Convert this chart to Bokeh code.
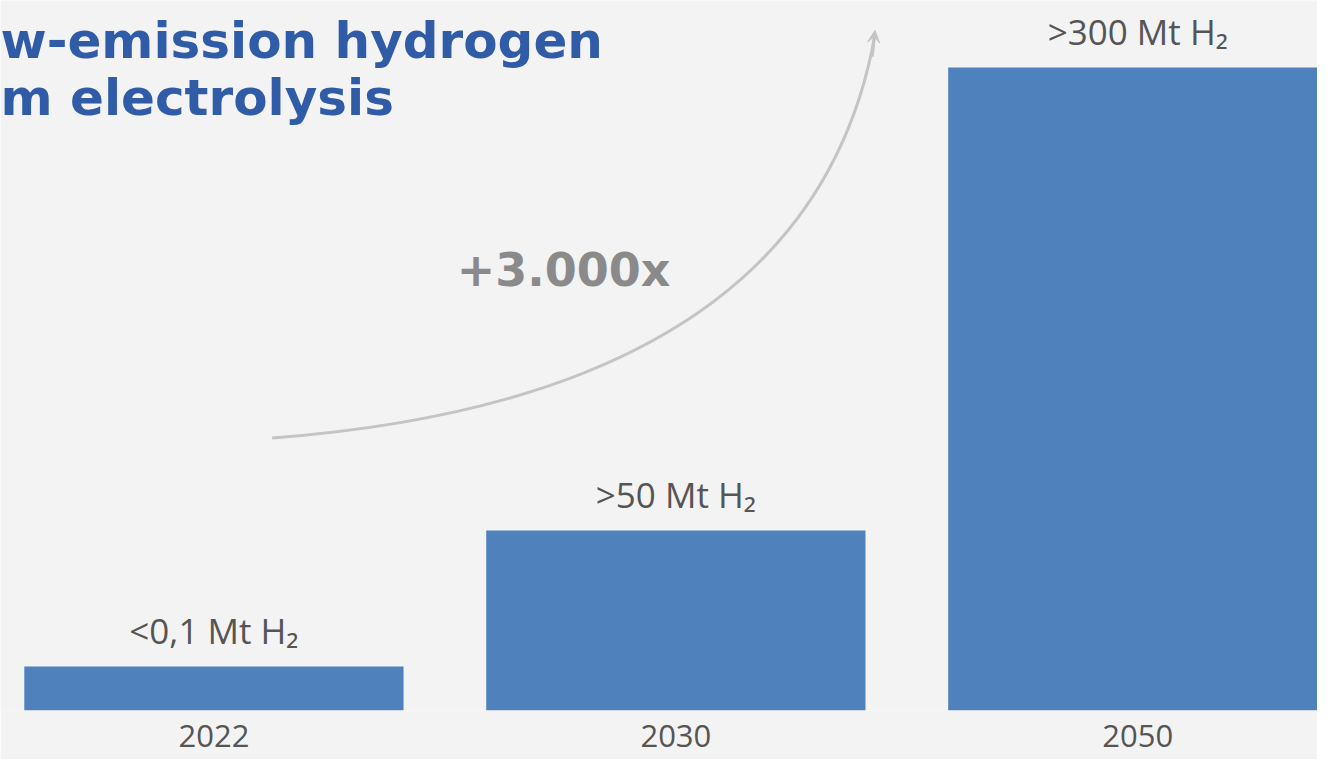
from bokeh.plotting import figure
from bokeh.models import Range1d, FixedTicker, ColumnDataSource, Arrow, VeeHead
from bokeh.core.properties import value
from bokeh.embed import file_html
from bokeh.resources import INLINE

# ---- data ----
years = ["2022", "2030", "2050"]
bar_heights = [20.5, 84.0, 300.0]          # bar heights as drawn (2050 bar = 300)
bar_labels = ["<0,1 Mt H\u2082", ">50 Mt H\u2082", ">300 Mt H\u2082"]
title_lines = ["w-emission hydrogen", "m electrolysis"]
growth_label = "+3.000x"

BG = "#f3f3f3"
BAR = "#4f81bd"
TITLE = "#2f5ba7"
GREY_TXT = "#555555"

xs = list(range(len(years)))
src = ColumnDataSource(dict(x=xs, top=bar_heights, label=bar_labels))

p = figure(width=1317, height=759, output_backend="svg", toolbar_location=None,
           x_range=Range1d(-0.462, 2.389), y_range=Range1d(0, 331.2),
           min_border_left=0, min_border_right=0, min_border_top=0, min_border_bottom=49)
p.background_fill_color = BG
p.border_fill_color = BG
p.outline_line_color = None
p.grid.visible = False
p.yaxis.visible = False

p.vbar(x="x", top="top", bottom=0, width=0.821, source=src, fill_color=BAR, line_color=None)

p.text(x="x", y="top", text="label", source=src, text_align="center", text_baseline="alphabetic",
       y_offset=-36, text_font=value("Open Sans"), text_font_size="35px", text_color=GREY_TXT)

ax = p.xaxis[0]
ax.ticker = FixedTicker(ticks=xs)
ax.major_label_overrides = {i: y for i, y in zip(xs, years)}
ax.axis_line_color = None
ax.major_tick_line_color = None
ax.minor_tick_line_color = None
ax.major_tick_in = 0
ax.major_tick_out = 0
ax.major_label_standoff = 14
ax.major_label_text_font = "Open Sans"
ax.major_label_text_font_size = "31px"
ax.major_label_text_color = GREY_TXT

# title (cropped at left in the reference)
p.text(x=[-0.462, -0.462], y=[312.5, 285.9], text=title_lines, text_align="left",
       text_baseline="alphabetic", text_font=value("DejaVu Sans"), text_font_style="bold",
       text_font_size="50px", text_color=TITLE)

# growth arrow: curve from the 2022 area up to the 2050 bar
x0, y0 = 0.126, 127.1
cx, cy = 1.292, 146.2
x1, y1 = 1.431, 315.2
p.quadratic(x0=[x0], y0=[y0], x1=[x1], y1=[y1], cx=[cx], cy=[cy],
            line_color="#c4c4c4", line_width=3)
p.add_layout(Arrow(end=VeeHead(size=12, fill_color="#c4c4c4", line_color="#c4c4c4"),
                   x_start=1.425, y_start=305.0, x_end=x1, y_end=y1 + 2,
                   line_color="#c4c4c4", line_width=3))

p.text(x=[0.757], y=[205.6], text=[growth_label], text_align="center", text_baseline="middle",
       text_font=value("DejaVu Sans"), text_font_style="bold", text_font_size="46px",
       text_color="#8a8a8a")

open("out.html", "w").write(file_html(p, INLINE))
